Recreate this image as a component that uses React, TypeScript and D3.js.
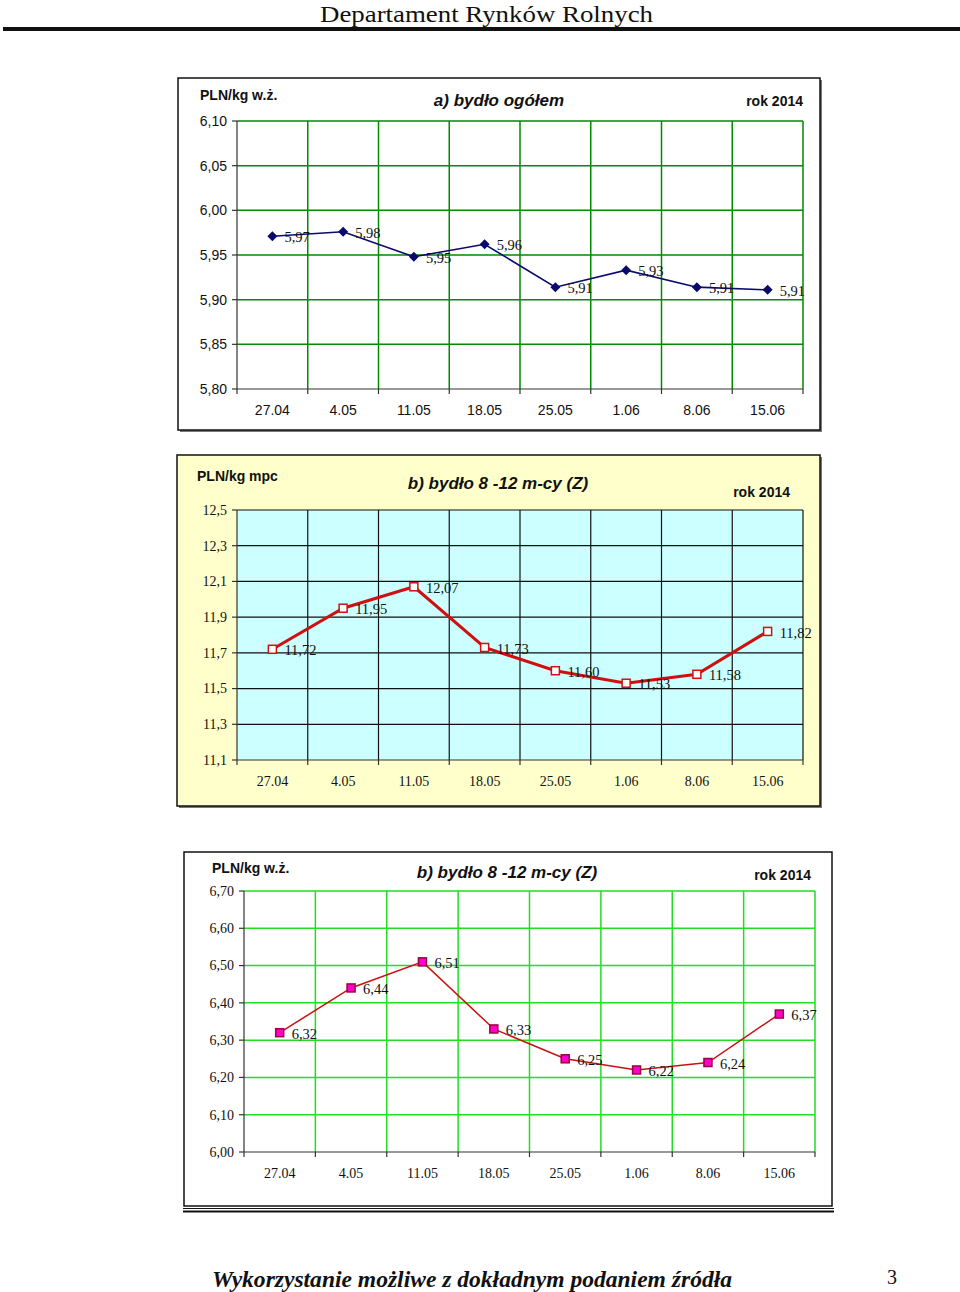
import React from 'react';
import * as d3 from 'd3';

// dates (weeks) shared by all three panels
const weeks = ['27.04', '4.05', '11.05', '18.05', '25.05', '1.06', '8.06', '15.06'];

// a) bydło ogółem, PLN/kg w.ż.
const cattleAll = [5.971, 5.976, 5.948, 5.962, 5.914, 5.933, 5.914, 5.911];
const cattleAllTicks = [5.8, 5.85, 5.9, 5.95, 6.0, 6.05, 6.1];

// b) bydło 8-12 m-cy (Z), PLN/kg mpc
const youngMpc = [11.72, 11.95, 12.07, 11.73, 11.6, 11.53, 11.58, 11.82];
const youngMpcTicks = [11.1, 11.3, 11.5, 11.7, 11.9, 12.1, 12.3, 12.5];

// b) bydło 8-12 m-cy (Z), PLN/kg w.ż.
const youngLive = [6.32, 6.44, 6.51, 6.33, 6.25, 6.22, 6.24, 6.37];
const youngLiveTicks = [6.0, 6.1, 6.2, 6.3, 6.4, 6.5, 6.6, 6.7];

const fmt = (v: number, d: number) => v.toFixed(d).replace('.', ',');
const ARIAL = 'Arial, "Liberation Sans", sans-serif';
const TIMES = '"Times New Roman", "Liberation Serif", serif';

type Cfg = {
  frame: { x: number; y: number; w: number; h: number };
  plot: { l: number; r: number; t: number; b: number };
  values: number[];
  ticks: number[];
  tickDigits: number;
  frameFill: string;
  plotFill: string;
  grid: string;
  gridW: number;
  axisFont: string;
  unit: string;
  unitPos: [number, number];
  title: string;
  titlePos: [number, number];
  yearPos: [number, number];
  lineColor: string;
  lineW: number;
  marker: 'diamond' | 'open' | 'filled';
  shadow: boolean;
};

const Panel = ({ c }: { c: Cfg }) => {
  const x = d3.scaleBand<string>().domain(weeks).range([c.plot.l, c.plot.r]).padding(0);
  const y = d3.scaleLinear()
    .domain([c.ticks[0], c.ticks[c.ticks.length - 1]])
    .range([c.plot.b, c.plot.t]);
  const cx = (d: string) => (x(d) as number) + x.bandwidth() / 2;
  const line = d3.line<number>().x((_, i) => cx(weeks[i])).y(v => y(v));
  const bounds = weeks.map(w => x(w) as number).concat([c.plot.r]);

  return (
    <g>
      {c.shadow && (
        <rect x={c.frame.x + 2} y={c.frame.y + 2} width={c.frame.w} height={c.frame.h} fill="#777" />
      )}
      <rect x={c.frame.x} y={c.frame.y} width={c.frame.w} height={c.frame.h}
        fill={c.frameFill} stroke="#111" strokeWidth={1.5} />
      <rect x={c.plot.l} y={c.plot.t} width={c.plot.r - c.plot.l} height={c.plot.b - c.plot.t} fill={c.plotFill} />

      {/* grid */}
      {c.ticks.slice(1).map(t => (
        <line key={'h' + t} x1={c.plot.l} x2={c.plot.r} y1={y(t)} y2={y(t)} stroke={c.grid} strokeWidth={c.gridW} />
      ))}
      {bounds.slice(1).map((b, i) => (
        <line key={'v' + i} x1={b} x2={b} y1={c.plot.t} y2={c.plot.b} stroke={c.grid} strokeWidth={c.gridW} />
      ))}

      {/* axes */}
      <line x1={c.plot.l} x2={c.plot.l} y1={c.plot.t} y2={c.plot.b} stroke="#333" strokeWidth={1.2} />
      <line x1={c.plot.l} x2={c.plot.r} y1={c.plot.b} y2={c.plot.b} stroke="#333" strokeWidth={1.2} />
      {c.ticks.map(t => (
        <g key={'yt' + t}>
          <line x1={c.plot.l - 5} x2={c.plot.l} y1={y(t)} y2={y(t)} stroke="#333" strokeWidth={1.2} />
          <text x={c.plot.l - 10} y={y(t)} dy="0.35em" textAnchor="end" fontFamily={c.axisFont} fontSize={14} fill="#111">
            {fmt(t, c.tickDigits)}
          </text>
        </g>
      ))}
      {bounds.map((b, i) => (
        <line key={'xt' + i} x1={b} x2={b} y1={c.plot.b} y2={c.plot.b + 5} stroke="#333" strokeWidth={1.2} />
      ))}
      {weeks.map(w => (
        <text key={'xl' + w} x={cx(w)} y={c.plot.b + 26} textAnchor="middle" fontFamily={c.axisFont} fontSize={14} fill="#111">
          {w}
        </text>
      ))}

      {/* series */}
      <path d={line(c.values) as string} fill="none" stroke={c.lineColor} strokeWidth={c.lineW} />
      {c.values.map((v, i) => {
        const px = cx(weeks[i]);
        const py = y(v);
        if (c.marker === 'diamond') {
          return <path key={'m' + i} d={`M${px},${py - 5}L${px + 5},${py}L${px},${py + 5}L${px - 5},${py}Z`} fill="#0a0a6e" />;
        }
        return (
          <rect key={'m' + i} x={px - 4} y={py - 4} width={8} height={8}
            fill={c.marker === 'open' ? '#fff' : '#ff00cc'}
            stroke={c.marker === 'open' ? '#d01010' : '#a0003c'} strokeWidth={1.5} />
        );
      })}
      {c.values.map((v, i) => (
        <text key={'dl' + i} x={cx(weeks[i]) + 12} y={y(v) + 1} dy="0.35em" fontFamily={TIMES} fontSize={14.5} fill="#111">
          {fmt(v, 2)}
        </text>
      ))}

      {/* titles */}
      <text x={c.unitPos[0]} y={c.unitPos[1]} fontFamily={ARIAL} fontWeight="bold" fontSize={14} fill="#111">{c.unit}</text>
      <text x={c.titlePos[0]} y={c.titlePos[1]} textAnchor="middle" fontFamily={ARIAL} fontWeight="bold" fontStyle="italic" fontSize={17} fill="#111">
        {c.title}
      </text>
      <text x={c.yearPos[0]} y={c.yearPos[1]} textAnchor="end" fontFamily={ARIAL} fontWeight="bold" fontSize={14} fill="#111">rok 2014</text>
    </g>
  );
};

const panels: Cfg[] = [
  {
    frame: { x: 178, y: 78, w: 642, h: 352 },
    plot: { l: 237, r: 803, t: 121, b: 389 },
    values: cattleAll, ticks: cattleAllTicks, tickDigits: 2,
    frameFill: '#fff', plotFill: '#fff', grid: '#008a00', gridW: 1.5,
    axisFont: ARIAL,
    unit: 'PLN/kg w.ż.', unitPos: [200, 100],
    title: 'a) bydło ogółem', titlePos: [499, 106], yearPos: [803, 106],
    lineColor: '#0a0a6e', lineW: 1.6, marker: 'diamond', shadow: true,
  },
  {
    frame: { x: 177, y: 455, w: 643, h: 351 },
    plot: { l: 237, r: 803, t: 510, b: 760 },
    values: youngMpc, ticks: youngMpcTicks, tickDigits: 1,
    frameFill: '#ffffcc', plotFill: '#ccffff', grid: '#111', gridW: 1.2,
    axisFont: TIMES,
    unit: 'PLN/kg mpc', unitPos: [197, 481],
    title: 'b) bydło 8 -12 m-cy (Z)', titlePos: [498, 489], yearPos: [790, 497],
    lineColor: '#d01010', lineW: 3, marker: 'open', shadow: true,
  },
  {
    frame: { x: 184, y: 852, w: 648, h: 354 },
    plot: { l: 244, r: 815, t: 891, b: 1152 },
    values: youngLive, ticks: youngLiveTicks, tickDigits: 2,
    frameFill: '#fff', plotFill: '#fff', grid: '#22dd22', gridW: 1.5,
    axisFont: TIMES,
    unit: 'PLN/kg w.ż.', unitPos: [212, 873],
    title: 'b) bydło 8 -12 m-cy (Z)', titlePos: [507, 878], yearPos: [811, 880],
    lineColor: '#cc1010', lineW: 1.5, marker: 'filled', shadow: false,
  },
];

export default function App() {
  return (
    <svg width={960} height={1292} style={{ position: 'absolute', left: 0, top: 0, background: '#fff' }}>
      <text x={320} y={22} fontFamily={TIMES} fontSize={24} textLength={333} lengthAdjust="spacingAndGlyphs" fill="#111">
        Departament Rynków Rolnych
      </text>
      <rect x={3} y={27} width={957} height={4} fill="#111" />

      {panels.map((p, i) => <Panel key={i} c={p} />)}

      <line x1={183} x2={834} y1={1208.5} y2={1208.5} stroke="#111" strokeWidth={1} />
      <line x1={183} x2={834} y1={1211.5} y2={1211.5} stroke="#111" strokeWidth={2} />

      <text x={212} y={1287} fontFamily={TIMES} fontWeight="bold" fontStyle="italic" fontSize={24}
        textLength={520} lengthAdjust="spacingAndGlyphs" fill="#111">
        Wykorzystanie możliwe z dokładnym podaniem źródła
      </text>
      <text x={887} y={1284} fontFamily={TIMES} fontSize={20} fill="#111">3</text>
    </svg>
  );
}
